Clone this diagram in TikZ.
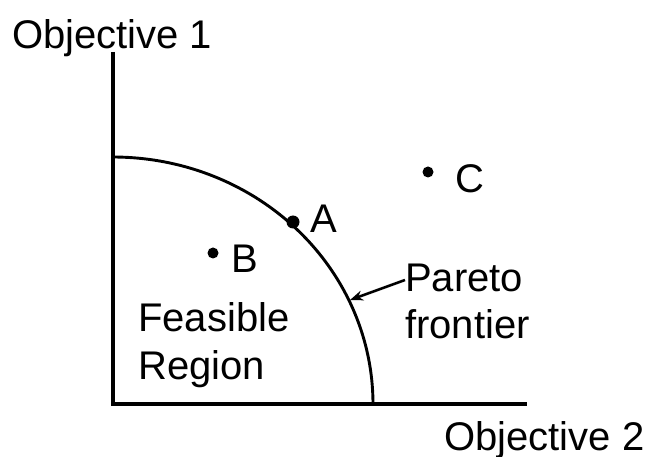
\documentclass[tikz,border=0pt]{standalone}
\usepackage{fontspec}
\setmainfont{Liberation Sans}
\usetikzlibrary{arrows.meta, positioning}

\begin{document}
\begin{tikzpicture}[
    x=1pt, y=-1pt,
    axis/.style={line width=3.2pt},
    frontier/.style={line width=2.9pt},
    ptr/.style={-{Stealth[length=13pt, width=10pt]}, line width=2.6pt},
    dot/.style={circle, fill=black, inner sep=0pt, minimum size=#1},
    label/.style={font=\fontsize{40}{47}\selectfont, inner sep=0pt, anchor=base west},
    >=Stealth
  ]
  \useasboundingbox (0,0) rectangle (654,457);

  % --- axes ---
  \coordinate (origin) at (113,404);
  \coordinate (ytop) at (113,52);
  \coordinate (xend) at (527,404);
  \draw[axis] (ytop) -- (origin) -- (xend);
  \node[label] (obj1) at (12,49) {Objective 1};
  \node[label] (obj2) at (444,450) {Objective 2};

  % --- Pareto frontier: quarter ellipse ---
  \draw[frontier] plot[domain=0:90, samples=80] ({113+260*cos(\x)},{404-247*sin(\x)});
  \coordinate (tip) at (350,300);

  % --- points ---
  \node[dot=13pt] (ptA) at (293,222) {};
  \node[dot=11pt] (ptB) at (213,253) {};
  \node[dot=11pt] (ptC) at (428,172) {};
  \node[label] (labA) at (310,233) {A};
  \node[label] (labB) at (231,273) {B};
  \node[label] (labC) at (455,193) {C};

  % --- region and frontier labels ---
  \node[label] (feasible) at (138,332) {Feasible};
  \node[label] (region) at (138,380) {Region};
  \node[label] (pareto) at (405,292) {Pareto};
  \node[label] (frontierlab) at (405,338) {frontier};
  \draw[ptr] (pareto.west |- 0,280) -- (tip);

\end{tikzpicture}
\end{document}
